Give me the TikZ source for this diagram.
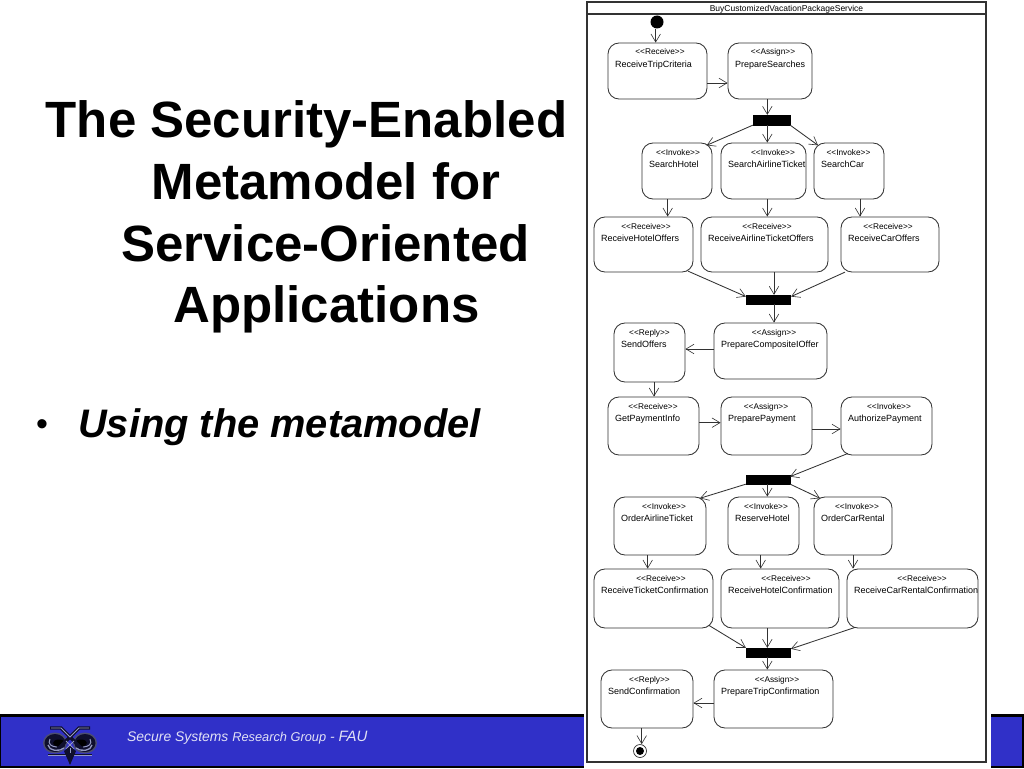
\documentclass[tikz,border=0pt]{standalone}
\usepackage{fontspec}
\setmainfont{Liberation Sans}
\usetikzlibrary{arrows.meta}
\definecolor{bandblue}{RGB}{48,48,200}
\definecolor{bandtext}{RGB}{225,225,245}
\definecolor{linegrey}{RGB}{50,50,50}
\definecolor{owlgrey}{RGB}{150,155,195}
\definecolor{owldark}{RGB}{15,15,45}
\tikzset{
  x=1pt,y=-1pt,
  activity/.style={draw=linegrey,line width=0.85pt,fill=white,rounded corners=11pt,inner sep=0pt},
  bar/.style={fill=black,draw=black,line width=0.3pt,inner sep=0pt},
  flow/.style={draw=linegrey,line width=0.85pt,-{Straight Barb[length=8pt,width=9.5pt,line width=0.6pt]}},
  stereo/.style={inner sep=0pt,anchor=base,font=\fontsize{8.3}{10}\selectfont,text=black},
  actname/.style={inner sep=0pt,anchor=base west,font=\fontsize{9}{10}\selectfont,text=black},
  titleline/.style={inner sep=0pt,anchor=base,font=\fontsize{51}{54}\selectfont\bfseries},
}
% name, x0, y0, x1, y1, stereotype, stereotype centre x, label
\newcommand{\actbox}[8]{%
  \node[activity,minimum width={(#4-#2)*1pt},minimum height={(#5-#3)*1pt}] (#1) at ({(#2+#4)/2},{(#3+#5)/2}) {};
  \node[stereo] (#1s) at (#7,{#3+12}) {<{}<#6>{}>};
  \node[actname] (#1n) at ({#2+7},{#3+24}) {#8};
}
\newcommand{\barnode}[5]{%
  \node[bar,minimum width={(#4-#2)*1pt},minimum height={(#5-#3)*1pt}] (#1) at ({(#2+#4)/2},{(#3+#5)/2}) {};
}
\begin{document}
\begin{tikzpicture}
\useasboundingbox (0,0) rectangle (1024,768);
\fill[white] (0,0) rectangle (1024,768);
% footer band
\fill[black] (0,714) rectangle (1024,768);
\fill[bandblue] (1,717) rectangle (1022,766);
\fill[white] (584,700) rectangle (991,768);
% owl logo
\begin{scope}[shift={(70,745)}]
  \fill[owlgrey!45!owldark] (-15,-2) ellipse (12 and 10.5);
  \fill[owlgrey!45!owldark] (15,-2) ellipse (12 and 10.5);
  \fill[owldark] (-15,-2) ellipse (10.5 and 9);
  \fill[owldark] (15,-2) ellipse (10.5 and 9);
  \draw[owlgrey,line width=1.3pt] (-22,0) .. controls (-21,6) and (-11,7) .. (-6,3);
  \draw[owlgrey,line width=1.3pt] (22,0) .. controls (21,6) and (11,7) .. (6,3);
  \draw[owlgrey,line width=1pt] (-20,-6) .. controls (-23,-1) and (-18,2) .. (-13,2);
  \draw[owlgrey,line width=1pt] (20,-6) .. controls (23,-1) and (18,2) .. (13,2);
  \fill[black] (-11,-2) ellipse (6 and 3.5);
  \fill[black] (11,-2) ellipse (6 and 3.5);
  \draw[owldark,line width=3.4pt] (-20,-17) -- (-9,-17) -- (11,3);
  \draw[owldark,line width=3.4pt] (20,-17) -- (9,-17) -- (-11,3);
  \draw[owlgrey,line width=0.9pt] (-19,-17) -- (-9,-17) -- (0,-8) -- (9,-17) -- (19,-17);
  \draw[owlgrey,line width=0.9pt] (-4,-4) -- (4,4) (4,-4) -- (-4,4);
  \draw[owldark,line width=2.6pt] (-22,10) -- (22,10);
  \draw[owlgrey,line width=0.9pt] (-22,10) -- (22,10);
  \fill[owldark] (-6,6) -- (0,20) -- (6,6) -- (0,1) -- cycle;
  \draw[owlgrey,line width=0.7pt] (0,3) -- (0,8);
\end{scope}
\node[inner sep=0pt,anchor=base west,text=bandtext,font=\itshape\fontsize{13.9}{15}\selectfont] (footer) at (127,741) {Secure Systems {\fontsize{12.8}{15}\selectfont Research Group} - {\fontsize{15}{15}\selectfont FAU}};
% slide text
\node[titleline] (t1) at (306.5,137) {The Security-Enabled};
\node[titleline] (t2) at (326,199) {Metamodel for};
\node[titleline] (t3) at (325.5,261) {Service-Oriented};
\node[titleline] (t4) at (326.5,322.5) {Applications};
\node[inner sep=0pt,anchor=base west,font=\fontsize{34}{36}\selectfont] (bullet) at (36,435) {•};
\node[inner sep=0pt,anchor=base west,font=\fontsize{39.8}{42}\selectfont\bfseries\itshape] (sub) at (78,437) {Using the metamodel};
% frame
\node[draw=linegrey,line width=1.1pt,minimum width=399pt,minimum height=760pt,inner sep=0pt,fill=white] (frame) at (786.5,382) {};
\node[draw=linegrey,line width=1.1pt,minimum width=399pt,minimum height=12pt,inner sep=0pt] (framehead) at (786.5,8) {};
\node[inner sep=0pt,anchor=base,font=\fontsize{8.5}{9}\selectfont] (frametitle) at (786.5,11.5) {BuyCustomizedVacationPackageService};
% initial and final
\node[circle,fill=black,inner sep=0pt,minimum size=13pt] (start) at (657,22) {};
\node[circle,draw=linegrey,line width=0.7pt,fill=white,inner sep=0pt,minimum size=13pt] (end) at (640,751) {};
\node[circle,fill=black,inner sep=0pt,minimum size=8pt] (endc) at (640,751) {};
% activities
\actbox{rt}{608}{43}{707}{99}{Receive}{660}{ReceiveTripCriteria}
\actbox{ps}{728}{43}{812}{99}{Assign}{773}{PrepareSearches}
\barnode{f1}{753}{115}{790}{125}
\actbox{sh}{642}{143}{712}{199}{Invoke}{678}{SearchHotel}
\actbox{sa}{721}{143}{806}{199}{Invoke}{773}{SearchAirlineTicket}
\actbox{sc}{814}{143}{884}{199}{Invoke}{848.5}{SearchCar}
\actbox{rh}{594}{217}{693}{272}{Receive}{646}{ReceiveHotelOffers}
\actbox{ra}{701}{217}{828}{272}{Receive}{767}{ReceiveAirlineTicketOffers}
\actbox{rc}{841}{217}{939}{272}{Receive}{888}{ReceiveCarOffers}
\barnode{j1}{746}{295}{790}{304}
\actbox{so}{614}{323}{685}{382}{Reply}{649.5}{SendOffers}
\actbox{pc}{714}{323}{827}{379}{Assign}{774}{PrepareCompositeIOffer}
\actbox{gp}{608}{397}{699}{455}{Receive}{653}{GetPaymentInfo}
\actbox{pp}{721}{397}{812}{455}{Assign}{766}{PreparePayment}
\actbox{ap}{841}{397}{932}{455}{Invoke}{889}{AuthorizePayment}
\barnode{f2}{746}{475}{790}{484}
\actbox{oa}{614}{497}{706}{555}{Invoke}{664}{OrderAirlineTicket}
\actbox{rs}{728}{497}{799}{555}{Invoke}{766}{ReserveHotel}
\actbox{oc}{814}{497}{892}{555}{Invoke}{857}{OrderCarRental}
\actbox{rk}{594}{569}{713}{628}{Receive}{661}{ReceiveTicketConfirmation}
\actbox{ro}{721}{569}{839}{628}{Receive}{786}{ReceiveHotelConfirmation}
\actbox{rr}{847}{569}{978}{628}{Receive}{922}{ReceiveCarRentalConfirmation}
\barnode{j2}{746}{648}{790}{657}
\actbox{sf}{601}{670}{693}{728}{Reply}{649.5}{SendConfirmation}
\actbox{pt}{714}{670}{833}{728}{Assign}{777}{PrepareTripConfirmation}
% connectors
\draw[flow] (655.7,0 |- start.south) -- (655.7,0 |- rt.north);
\draw[flow] (rt.east |- 0,83) -- (ps.west |- 0,83);
\draw[flow] (767.3,0 |- ps.south) -- (767.3,0 |- f1.north);
\draw[flow] (f1.south west) -- ([yshift=-2.7pt]706.7,0 |- sh.north);
\draw[flow] (767.3,0 |- f1.south) -- (767.3,0 |- sa.north);
\draw[flow] (f1.south east) -- ([yshift=-2.7pt]818,0 |- sc.north);
\draw[flow] (667.7,0 |- sh.south) -- (667.7,0 |- rh.north);
\draw[flow] (767.3,0 |- sa.south) -- (767.3,0 |- ra.north);
\draw[flow] (860,0 |- sc.south) -- (860,0 |- rc.north);
\draw[flow] ([yshift=1.3pt]688,0 |- rh.south) -- ([yshift=-1.7pt]j1.north west);
\draw[flow] (774,0 |- ra.south) -- (774,0 |- j1.north);
\draw[flow] ([yshift=0.3pt]845,0 |- rc.south) -- ([xshift=1pt,yshift=-1.7pt]j1.north east);
\draw[flow] (774,0 |- j1.south) -- (774,0 |- pc.north);
\draw[flow] (pc.west |- 0,349) -- (so.east |- 0,349);
\draw[flow] (654,0 |- so.south) -- (654,0 |- gp.north);
\draw[flow] (gp.east |- 0,422.7) -- (pp.west |- 0,422.7);
\draw[flow] (pp.east |- 0,429) -- (ap.west |- 0,429);
\draw[flow] ([yshift=2pt]848,0 |- ap.south) -- ([yshift=-1.7pt]f2.north east);
\draw[flow] (f2.south west) -- ([yshift=-1.7pt]700,0 |- oa.north);
\draw[flow] (767.3,0 |- f2.south) -- (767.3,0 |- rs.north);
\draw[flow] (f2.south east) -- ([yshift=-1.7pt]820,0 |- oc.north);
\draw[flow] (647.7,0 |- oa.south) -- (647.7,0 |- rk.north);
\draw[flow] (760.7,0 |- rs.south) -- (760.7,0 |- ro.north);
\draw[flow] (853,0 |- oc.south) -- (853,0 |- rr.north);
\draw[flow] ([yshift=3pt]709,0 |- rk.south) -- (j2.north west);
\draw[flow] (767.3,0 |- ro.south) -- (767.3,0 |- j2.north);
\draw[flow] ([yshift=1pt]855,0 |- rr.south) -- ([xshift=0.7pt,yshift=-1pt]j2.north east);
\draw[flow] (767.3,0 |- j2.south) -- (767.3,0 |- pt.north);
\draw[flow] (pt.west |- 0,703) -- (sf.east |- 0,703);
\draw[flow] (641.7,0 |- sf.south) -- (641.7,0 |- end.north);
\end{tikzpicture}
\end{document}
